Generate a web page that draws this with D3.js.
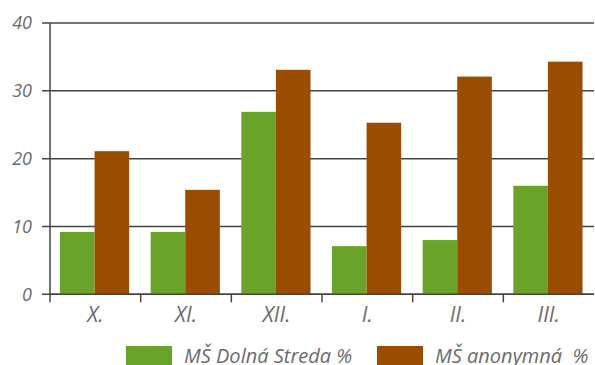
<!DOCTYPE html>
<html>
<head>
<meta charset="utf-8">
<script src="https://cdn.jsdelivr.net/npm/d3@7"></script>
<style>
  html, body { margin: 0; padding: 0; background: #fff; }
  svg { display: block; }
  text { font-family: "Open Sans", sans-serif; font-style: italic; fill: #6b6b6b; }
</style>
</head>
<body>
<svg id="chart" width="595" height="365"></svg>
<script>
// Monthly shares (%) for two kindergartens
const months = ["X.", "XI.", "XII.", "I.", "II.", "III."];
const dolnaStreda = [9.2, 9.2, 26.9, 7.1, 8.0, 16.0];
const anonymna = [21.1, 15.4, 33.1, 25.3, 32.1, 34.3];
const seriesNames = ["MŠ Dolná Streda %", "MŠ anonymná  %"];
const seriesColors = ["#6aa329", "#9a4c00"];
const yTicks = [0, 10, 20, 30, 40];

const svg = d3.select("#chart");
const plotLeft = 50, plotRight = 594, plotTop = 23, plotBottom = 294.3;

const x0 = d3.scaleBand().domain(months).range([plotLeft, plotRight]).padding(0);
const x1 = d3.scaleBand().domain([0, 1])
  .range([10, x0.bandwidth() - 11.5]).padding(0);
const y = d3.scaleLinear().domain([0, 40]).range([plotBottom, plotTop]);

// Horizontal gridlines with left tick marks
svg.append("g").selectAll("line").data(yTicks).join("line")
  .attr("x1", plotLeft - 8).attr("x2", plotRight)
  .attr("y1", d => y(d)).attr("y2", d => y(d))
  .attr("stroke", "#444").attr("stroke-width", 1.5);

svg.append("g").selectAll("text").data(yTicks).join("text")
  .attr("x", 32).attr("y", d => y(d))
  .attr("dy", "0.36em")
  .attr("text-anchor", "end")
  .style("font-size", "18px")
  .text(d => d);

// Bars
const rows = months.map((m, i) => ({ m, vals: [dolnaStreda[i], anonymna[i]] }));
svg.append("g").selectAll("g").data(rows).join("g")
  .attr("transform", d => `translate(${x0(d.m)},0)`)
  .selectAll("rect").data(d => d.vals.map((v, k) => ({ v, k }))).join("rect")
  .attr("x", d => x1(d.k))
  .attr("width", x1.bandwidth())
  .attr("y", d => y(d.v))
  .attr("height", d => y(0) - y(d.v))
  .attr("fill", d => seriesColors[d.k]);

// Baseline and vertical axis
svg.append("line")
  .attr("x1", plotLeft).attr("x2", plotRight)
  .attr("y1", y(0)).attr("y2", y(0))
  .attr("stroke", "#444").attr("stroke-width", 1.5);
svg.append("line")
  .attr("x1", plotLeft).attr("x2", plotLeft)
  .attr("y1", plotTop).attr("y2", plotBottom + 8)
  .attr("stroke", "#444").attr("stroke-width", 1.5);

// Category boundary ticks
svg.append("g").selectAll("line").data(months.slice(1)).join("line")
  .attr("x1", d => x0(d)).attr("x2", d => x0(d))
  .attr("y1", plotBottom).attr("y2", plotBottom + 8)
  .attr("stroke", "#444").attr("stroke-width", 1.5);

// Category labels
svg.append("g").selectAll("text").data(months).join("text")
  .attr("x", d => x0(d) + x0.bandwidth() / 2)
  .attr("y", 322)
  .attr("text-anchor", "middle")
  .style("font-size", "21px")
  .text(d => d);

// Legend
const legendX = [126, 377];
const lg = svg.append("g").selectAll("g").data(seriesNames).join("g")
  .attr("transform", (d, i) => `translate(${legendX[i]},0)`);
lg.append("rect")
  .attr("x", 0).attr("y", 346)
  .attr("width", 46).attr("height", 22)
  .attr("fill", (d, i) => seriesColors[i]);
lg.append("text")
  .attr("x", 58).attr("y", 363)
  .style("font-size", "20px")
  .style("white-space", "pre")
  .text(d => d);
</script>
</body>
</html>
